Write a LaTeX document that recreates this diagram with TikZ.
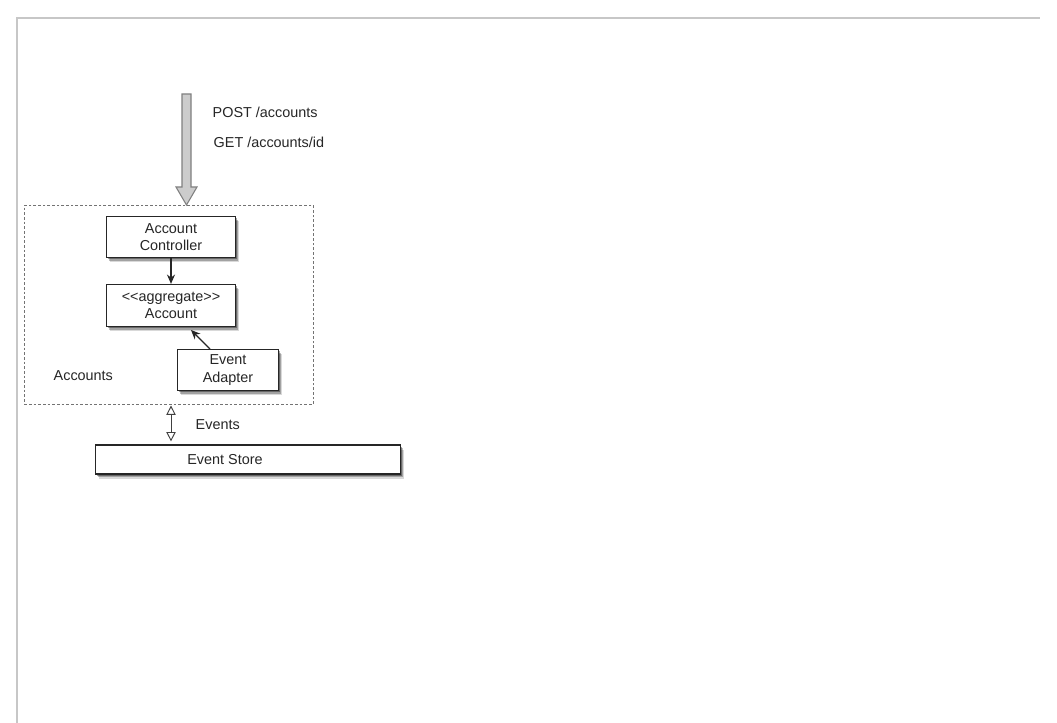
\documentclass[tikz,border=0pt]{standalone}
\usepackage{fontspec}
\setmainfont{Liberation Sans}
\usetikzlibrary{arrows.meta,shadows,calc}
\begin{document}
\begin{tikzpicture}[x=0.75pt,y=-0.75pt,
  txt/.style={font=\fontsize{10.8}{13}\selectfont, text=black!85},
  box/.style={draw=black!85, line width=0.9pt, fill=white, align=center, inner sep=0pt, txt,
     general shadow={shadow xshift=2.5pt, shadow yshift=-3.5pt, opacity=0.15, fill=black},
     general shadow={shadow xshift=1.8pt, shadow yshift=-2.5pt, opacity=0.25, fill=black},
     general shadow={shadow xshift=1pt, shadow yshift=-1.5pt, opacity=0.35, fill=black}},
  conn/.style={-{Stealth[length=7pt,width=6pt]}, line width=0.8pt, black!85},
  frame/.style={draw=black!22, line width=1.5pt}
]
\useasboundingbox (0,0) rectangle (1057,723);
\fill[white] (0,0) rectangle (1057,723);
% page frame
\draw[frame] (17,723) -- (17,18) -- (1040,18);
% dashed group
\node[draw=black!55, dashed, dash pattern=on 2pt off 1.5pt, line width=0.6pt, minimum width=0.75*289pt, minimum height=0.75*199pt, anchor=north west, inner sep=0pt] (grp) at (24,205) {};
% boxes
\node[box, minimum width=0.75*129pt, minimum height=0.75*41pt] (ctrl) at (171,237) {Account\\Controller};
\node[box, minimum width=0.75*129pt, minimum height=0.75*42pt] (acc) at (171,305.5) {{<}{<}aggregate{>}{>}\\Account};
\node[box, minimum width=0.75*101pt, minimum height=0.75*41pt] (adp) at (228,370) {Event\\Adapter};
\node[box, minimum width=0.75*305pt, minimum height=0.75*29pt] (store) at (248,459.5) {};
\node[txt] (storelbl) at (225,459.5) {Event Store};
\node[txt, anchor=west] (acclbl) at (49,376) {Accounts};
\node[txt, anchor=west] (evlbl) at (191,425) {Events};
\node[txt, anchor=west] (post) at (208,112) {POST /accounts};
\node[txt, anchor=west] (get) at (209,142) {GET /accounts/id};
% connectors
\draw[conn] (ctrl.south) -- (acc.north);
\coordinate (adpout) at (210,349);
\coordinate (accin) at (191,330);
\draw[conn] (adpout) -- (accin);
\coordinate (da) at (171,405.5);
\draw[line width=0.7pt, black!75, {Triangle[open,length=7pt,width=7pt]}-{Triangle[open,length=7pt,width=7pt]}] (da) -- ($(da |- store.north)+(0,-3)$);
% big input arrow
\coordinate (src) at (186.5,94);
\coordinate (tip) at (186.5,205);
\draw[draw=black!50, fill=black!20, line width=0.8pt]
  ($(src)+(-4.5,0)$) -- ($(src)+(4.5,0)$) -- ($(tip)+(4.5,-18)$) -- ($(tip)+(10.5,-18)$) -- (tip)
  -- ($(tip)+(-10.5,-18)$) -- ($(tip)+(-4.5,-18)$) -- cycle;
\end{tikzpicture}
\end{document}
